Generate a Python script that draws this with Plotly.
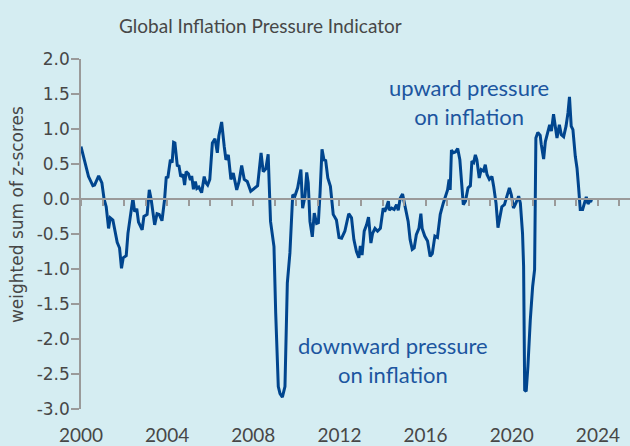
import plotly.graph_objects as go

# decimal year of each reading
dates = [
    2000.00, 2000.17, 2000.35, 2000.55, 2000.63, 2000.82, 2000.97, 2001.07, 2001.17, 2001.28,
    2001.36, 2001.48, 2001.59, 2001.68, 2001.79, 2001.88, 2001.96, 2002.10, 2002.18, 2002.31,
    2002.41, 2002.49, 2002.59, 2002.67, 2002.84, 2002.92, 2003.07, 2003.17, 2003.26, 2003.42,
    2003.53, 2003.63, 2003.76, 2003.88, 2003.96, 2004.03, 2004.15, 2004.23, 2004.30, 2004.36,
    2004.47, 2004.55, 2004.63, 2004.74, 2004.81, 2004.88, 2004.99, 2005.08, 2005.14, 2005.22,
    2005.31, 2005.38, 2005.47, 2005.60, 2005.72, 2005.80, 2005.88, 2005.98, 2006.10, 2006.22,
    2006.33, 2006.40, 2006.53, 2006.65, 2006.73, 2006.84, 2006.96, 2007.07, 2007.23, 2007.34,
    2007.46, 2007.58, 2007.72, 2007.88, 2008.05, 2008.20, 2008.36, 2008.46, 2008.58, 2008.69,
    2008.80, 2008.96, 2009.04, 2009.16, 2009.24, 2009.35, 2009.47, 2009.58, 2009.70, 2009.83,
    2009.93, 2010.06, 2010.21, 2010.29, 2010.40, 2010.48, 2010.55, 2010.63, 2010.74, 2010.83,
    2010.94, 2011.02, 2011.10, 2011.19, 2011.28, 2011.36, 2011.46, 2011.58, 2011.71, 2011.86,
    2011.98, 2012.10, 2012.25, 2012.43, 2012.56, 2012.67, 2012.79, 2012.90, 2012.97, 2013.05,
    2013.15, 2013.26, 2013.35, 2013.46, 2013.54, 2013.65, 2013.77, 2013.90, 2014.03, 2014.10,
    2014.19, 2014.27, 2014.31, 2014.42, 2014.54, 2014.65, 2014.73, 2014.82, 2014.93, 2015.00,
    2015.07, 2015.19, 2015.28, 2015.38, 2015.47, 2015.57, 2015.69, 2015.78, 2015.84, 2015.96,
    2016.09, 2016.21, 2016.31, 2016.43, 2016.55, 2016.68, 2016.82, 2016.93, 2017.02, 2017.09,
    2017.14, 2017.20, 2017.29, 2017.38, 2017.49, 2017.59, 2017.67, 2017.75, 2017.85, 2017.97,
    2018.08, 2018.15, 2018.23, 2018.31, 2018.38, 2018.49, 2018.58, 2018.69, 2018.77, 2018.85,
    2018.96, 2019.08, 2019.16, 2019.27, 2019.36, 2019.46, 2019.54, 2019.66, 2019.78, 2019.89,
    2019.98, 2020.08, 2020.19, 2020.32, 2020.40, 2020.50, 2020.55, 2020.60, 2020.67, 2020.75,
    2020.86, 2020.97, 2021.06, 2021.12, 2021.21, 2021.32, 2021.37, 2021.48, 2021.56, 2021.68,
    2021.76, 2021.84, 2021.94, 2022.02, 2022.10, 2022.21, 2022.30, 2022.41, 2022.52, 2022.61,
    2022.68, 2022.76, 2022.84, 2022.95, 2023.03, 2023.10, 2023.18, 2023.29, 2023.37, 2023.46,
    2023.54, 2023.65, 2023.75,
]

indicator = [
    0.75, 0.56, 0.32, 0.19, 0.20, 0.33, 0.23, 0.00, -0.11, -0.42,
    -0.27, -0.30, -0.46, -0.62, -0.70, -0.99, -0.84, -0.81, -0.49, -0.20,
    0.01, -0.18, -0.14, -0.33, -0.44, -0.25, -0.22, 0.13, -0.01, -0.37,
    -0.21, -0.22, -0.31, -0.01, 0.32, 0.30, 0.56, 0.52, 0.81, 0.80,
    0.48, 0.47, 0.32, 0.35, 0.20, 0.39, 0.36, 0.27, 0.33, 0.14,
    0.25, 0.15, 0.17, 0.09, 0.32, 0.23, 0.20, 0.28, 0.80, 0.86,
    0.66, 0.90, 1.10, 0.75, 0.56, 0.63, 0.28, 0.37, 0.13, 0.25,
    0.48, 0.28, 0.25, 0.11, 0.15, 0.19, 0.66, 0.39, 0.43, 0.64,
    -0.32, -0.68, -1.63, -2.68, -2.78, -2.83, -2.68, -1.20, -0.77, 0.06,
    0.04, 0.16, 0.42, -0.13, 0.04, 0.38, 0.23, -0.32, -0.54, -0.20,
    -0.35, -0.34, 0.09, 0.71, 0.56, 0.55, 0.30, 0.18, -0.22, -0.30,
    -0.55, -0.56, -0.46, -0.21, -0.27, -0.58, -0.75, -0.84, -0.67, -0.80,
    -0.46, -0.37, -0.26, -0.63, -0.49, -0.42, -0.46, -0.42, -0.13, -0.18,
    -0.11, -0.03, -0.16, -0.13, -0.15, -0.08, -0.16, 0.01, 0.07, -0.03,
    -0.18, -0.32, -0.58, -0.72, -0.70, -0.51, -0.42, -0.21, -0.42, -0.53,
    -0.60, -0.82, -0.78, -0.53, -0.55, -0.22, -0.06, 0.04, 0.13, 0.28,
    0.13, 0.70, 0.66, 0.67, 0.72, 0.56, 0.25, -0.08, -0.03, 0.16,
    0.19, 0.54, 0.52, 0.63, 0.56, 0.30, 0.42, 0.40, 0.49, 0.35,
    0.28, 0.32, 0.18, -0.06, -0.41, -0.25, -0.11, -0.08, 0.04, 0.16,
    0.06, -0.13, -0.06, 0.04, -0.06, -0.49, -0.96, -2.73, -2.75, -2.39,
    -1.73, -1.25, -1.01, 0.87, 0.95, 0.91, 0.78, 0.57, 0.82, 0.99,
    1.06, 0.97, 1.21, 1.04, 0.87, 1.06, 0.92, 0.89, 1.04, 1.23,
    1.46, 1.04, 0.99, 0.61, 0.44, 0.18, -0.15, -0.15, -0.08, 0.03,
    -0.07, -0.02, -0.03,
]

x_tick_vals = [2000, 2004, 2008, 2012, 2016, 2020, 2024]
x_tick_text = ["2000", "2004", "2008", "2012", "2016", "2020", "2024"]
y_tick_vals = [2.0, 1.5, 1.0, 0.5, 0.0, -0.5, -1.0, -1.5, -2.0, -2.5, -3.0]
y_tick_text = ["2.0", "1.5", "1.0", "0.5", "0.0", "-0.5", "-1.0", "-1.5", "-2.0", "-2.5", "-3.0"]

title_text = "Global Inflation Pressure Indicator"
y_title = "weighted sum of z-scores"
note_up = "upward pressure<br>on inflation"
note_down = "downward pressure<br>on inflation"

BG = "#d5edf2"
LINE = "#00458e"
NOTE = "#1c56a0"
GREY = "#474747"
AXIS = "#9a9a9a"
XR = [2000, 2025.49]

fig = go.Figure()
fig.add_trace(go.Scatter(x=dates, y=indicator, mode="lines",
                         line=dict(color=LINE, width=3), hoverinfo="skip",
                         showlegend=False))
# same series on the overlaid axis that carries the zero line + yearly ticks
fig.add_trace(go.Scatter(x=dates, y=indicator, mode="lines", xaxis="x2",
                         line=dict(color="rgba(0,0,0,0)", width=0),
                         hoverinfo="skip", showlegend=False))

fig.update_layout(
    width=630, height=446,
    margin=dict(l=81, r=0, t=59, b=37),
    paper_bgcolor=BG, plot_bgcolor=BG,
    xaxis=dict(range=XR, tickvals=x_tick_vals, ticktext=x_tick_text,
               showgrid=False, zeroline=False, showline=False,
               ticks="outside", ticklen=9, tickcolor="rgba(0,0,0,0)",
               tickfont=dict(family="Lato", size=19, color=GREY)),
    xaxis2=dict(range=XR, overlaying="x", anchor="free", position=0.6,
                side="bottom", showgrid=False, zeroline=False,
                showline=True, linecolor=AXIS, linewidth=1.5,
                ticks="outside", tick0=2000, dtick=1, ticklen=6,
                tickcolor=AXIS, tickwidth=1.5, showticklabels=False),
    yaxis=dict(range=[-3, 2], tickvals=y_tick_vals, ticktext=y_tick_text,
               showgrid=False, zeroline=False, showline=True,
               linecolor=AXIS, linewidth=1.5, ticks="outside", ticklen=8,
               tickcolor=AXIS, tickwidth=1.5, ticklabelstandoff=-2,
               tickfont=dict(family="DejaVu Sans", size=17, color=GREY)),
    annotations=[
        dict(text=title_text, xref="paper", yref="paper", x=0.327, y=1.097,
             xanchor="center", yanchor="middle", showarrow=False,
             font=dict(family="Lato", size=19, color=GREY)),
        dict(text=y_title, xref="paper", yref="paper", x=-0.1166, y=0.557,
             xanchor="center", yanchor="middle", textangle=-90, showarrow=False,
             font=dict(family="DejaVu Sans", size=17, color=GREY)),
        dict(text=note_up, x=2018.01, y=1.39, xanchor="center", yanchor="middle",
             showarrow=False, font=dict(family="Lato", size=22, color=NOTE)),
        dict(text=note_down, x=2014.48, y=-2.30, xanchor="center", yanchor="middle",
             showarrow=False, font=dict(family="Lato", size=22, color=NOTE)),
    ],
)

fig.write_html("out.html", config={"displayModeBar": False},
               post_script="document.body.style.margin='0';document.body.style.overflow='hidden';")
